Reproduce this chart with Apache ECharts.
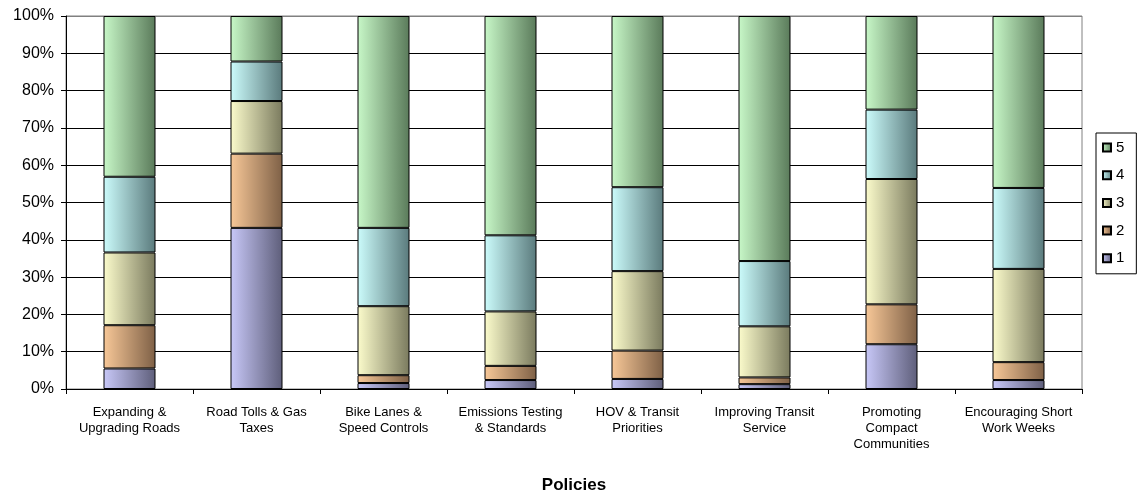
<!DOCTYPE html>
<html>
<head>
<meta charset="utf-8">
<title>Policies</title>
<script src="https://cdn.jsdelivr.net/npm/echarts@6/dist/echarts.min.js"></script>
<style>
  html, body { margin: 0; padding: 0; background: #fff; }
  #container { width: 1140px; height: 500px; }
</style>
</head>
<body>
<div id="container"></div>
<script>
// categories on the x axis
var categories = [
  'Expanding &\nUpgrading Roads',
  'Road Tolls & Gas\nTaxes',
  'Bike Lanes &\nSpeed Controls',
  'Emissions Testing\n& Standards',
  'HOV & Transit\nPriorities',
  'Improving Transit\nService',
  'Promoting\nCompact\nCommunities',
  'Encouraging Short\nWork Weeks'
];
// share of responses (%) per rating
var rating1 = [5.5, 43.2, 1.6, 2.4, 2.7, 1.3, 12.0, 2.4];
var rating2 = [11.6, 19.9, 2.1, 3.8, 7.6, 1.8, 10.7, 4.8];
var rating3 = [19.5, 14.1, 18.5, 14.6, 21.3, 13.7, 33.6, 25.0];
var rating4 = [20.3, 10.6, 21.0, 20.4, 22.5, 17.5, 18.6, 21.7];
var rating5 = [43.1, 12.2, 56.8, 58.8, 45.9, 65.7, 25.1, 46.1];
var yTicks = [0, 10, 20, 30, 40, 50, 60, 70, 80, 90, 100];

var font = "'Liberation Sans', Arial, sans-serif";

function grad(light, dark) {
  return {
    type: 'linear', x: 0, y: 0, x2: 1, y2: 0,
    colorStops: [{offset: 0, color: light}, {offset: 1, color: dark}]
  };
}

function bar(name, data, light, dark) {
  return {
    name: name,
    type: 'bar',
    stack: 'all',
    barWidth: 52,
    data: data,
    itemStyle: { color: grad(light, dark), borderColor: '#000', borderWidth: 1 },
    emphasis: { disabled: true }
  };
}

var gridColors = yTicks.map(function (v, i) { return i === yTicks.length - 1 ? '#808080' : '#000'; });

var myChart = echarts.init(document.getElementById('container'));
var option = {
  animation: false,
  textStyle: { fontFamily: font },
  grid: {
    left: 66, right: 58, top: 16, bottom: 111,
    outerBoundsMode: 'none',
    show: true, borderColor: '#808080', borderWidth: 1
  },
  legend: {
    data: ['5', '4', '3', '2', '1'],
    orient: 'vertical',
    left: 1096, top: 133,
    padding: [7, 12, 8, 6],
    itemGap: 12.7,
    itemWidth: 8, itemHeight: 8,
    icon: 'rect',
    borderColor: '#000', borderWidth: 1,
    textStyle: { fontSize: 15, color: '#000', fontFamily: font, lineHeight: 14 }
  },
  xAxis: {
    type: 'category',
    data: categories,
    name: 'Policies',
    nameLocation: 'middle',
    nameGap: 88,
    nameTextStyle: { fontSize: 17, fontWeight: 'bold', color: '#000', fontFamily: font },
    axisLine: { lineStyle: { color: '#000' } },
    axisTick: { show: true, length: 5, lineStyle: { color: '#000' } },
    axisLabel: { fontSize: 13, color: '#000', lineHeight: 16, margin: 15, interval: 0, fontFamily: font }
  },
  yAxis: {
    type: 'value',
    min: 0, max: 100, interval: 10,
    axisLine: { show: true, lineStyle: { color: '#000' } },
    axisTick: { show: true, length: 5, lineStyle: { color: '#000' } },
    axisLabel: { fontSize: 16, color: '#000', margin: 12, formatter: '{value}%', fontFamily: font },
    splitLine: { show: true, lineStyle: { color: gridColors, width: 1 } }
  },
  series: [
    bar('1', rating1, '#C8C8F8', '#5E5E7A'),
    bar('2', rating2, '#F8C898', '#7E6046'),
    bar('3', rating3, '#FCFCCC', '#7A7A5E'),
    bar('4', rating4, '#CCFCFC', '#5A7A7C'),
    bar('5', rating5, '#C8F8C8', '#5A7A5A')
  ]
};
myChart.setOption(option);
</script>
</body>
</html>
